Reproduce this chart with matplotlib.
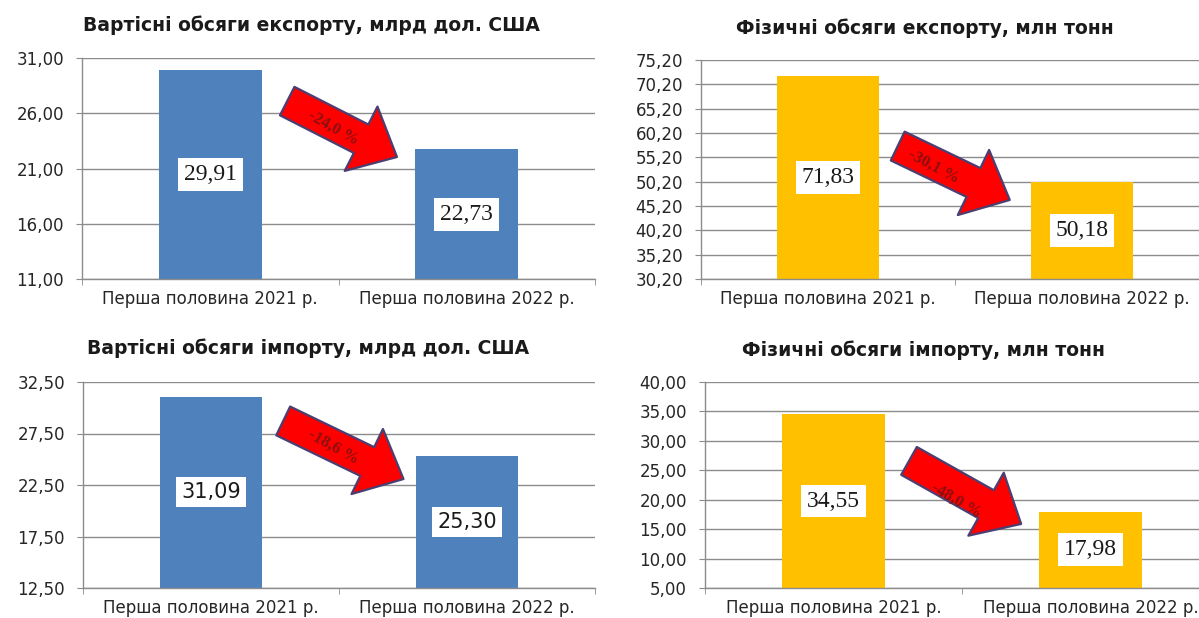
import numpy as np
import matplotlib
matplotlib.use("Agg")
import matplotlib.pyplot as plt
from matplotlib.ticker import FixedLocator, FuncFormatter

categories = ["Перша половина 2021 р.", "Перша половина 2022 р."]

export_value = [29.91, 22.73]     # млрд дол. США
export_volume = [71.83, 50.18]    # млн тонн
import_value = [31.09, 25.30]     # млрд дол. США
import_volume = [34.55, 17.98]    # млн тонн

titles = ["Вартісні обсяги експорту, млрд дол. США",
          "Фізичні обсяги експорту, млн тонн",
          "Вартісні обсяги імпорту, млрд дол. США",
          "Фізичні обсяги імпорту, млн тонн"]
changes = ["-24,0 %", "-30,1 %", "-18,6 %", "-48,0 %"]
y_ranges = [(11.0, 31.0), (30.2, 75.2), (12.5, 32.5), (5.0, 40.0)]

BLUE = "#4f81bd"
YELLOW = "#ffc000"
GRID = "#8c8c8c"

W, H = 1199, 618
fig = plt.figure(figsize=(W / 100, H / 100), dpi=100)


def px_box(left, top, right, bottom):
    return [left / W, 1 - bottom / H, (right - left) / W, (bottom - top) / H]


panels = [
    dict(vals=export_value, color=BLUE, box=px_box(82, 58, 595, 279), xmax=1.5,
         title_xy=(311, 25), label_font="Liberation Serif",
         arrow=((0.400, 0.805), (0.614, 0.552)), txt=(0.489, 0.683), rot=-29),
    dict(vals=export_volume, color=YELLOW, box=px_box(701, 60, 1199, 279), xmax=1.461,
         title_xy=(925, 28), label_font="Liberation Serif",
         arrow=((0.395, 0.607), (0.620, 0.361)), txt=(0.466, 0.511), rot=-28),
    dict(vals=import_value, color=BLUE, box=px_box(83, 382, 595, 588), xmax=1.5,
         title_xy=(308, 348), label_font="DejaVu Sans",
         arrow=((0.391, 0.811), (0.626, 0.529)), txt=(0.489, 0.684), rot=-29),
    dict(vals=import_volume, color=YELLOW, box=px_box(705, 382, 1199, 588), xmax=1.422,
         title_xy=(924, 350), label_font="Liberation Serif",
         arrow=((0.413, 0.617), (0.640, 0.311)), txt=(0.508, 0.427), rot=-30),
]

comma_fmt = FuncFormatter(lambda v, pos: f"{v:.2f}".replace(".", ","))

for i, p in enumerate(panels):
    ax = fig.add_axes(p["box"])
    lo, hi = y_ranges[i]
    x = np.arange(len(categories))
    vals = np.array(p["vals"])
    ax.bar(x, vals - lo, bottom=lo, width=0.4, color=p["color"], zorder=2)

    ax.set_xlim(-0.5, p["xmax"])
    ax.set_ylim(lo, hi)
    ax.yaxis.set_major_locator(FixedLocator(np.arange(lo, hi + 0.01, 5.0)))
    ax.yaxis.set_major_formatter(comma_fmt)
    ax.grid(axis="y", color=GRID, linewidth=1.0, zorder=0)
    ax.set_axisbelow(True)

    ax.set_xticks(x)
    ax.set_xticklabels(categories)
    ax.xaxis.set_minor_locator(FixedLocator([-0.5, 0.5, 1.5]))
    ax.tick_params(axis="x", which="major", length=0, pad=8,
                   labelsize=12, labelcolor="#262626")
    ax.tick_params(axis="x", which="minor", length=4, color=GRID, direction="out")
    ax.tick_params(axis="y", length=4, color=GRID, pad=9,
                   labelsize=12, labelcolor="#262626")
    for lab in ax.get_xticklabels() + ax.get_yticklabels():
        lab.set_fontfamily("DejaVu Sans")

    for s in ("top", "right"):
        ax.spines[s].set_visible(False)
    for s in ("left", "bottom"):
        ax.spines[s].set_color(GRID)
        ax.spines[s].set_linewidth(1.0)

    # value labels in the middle of each bar
    for xi, v in zip(x, vals):
        txt = f"{v:.2f}".replace(".", ",")
        ax.text(xi, (lo + v) / 2, txt, ha="center", va="center",
                fontsize=17 if p["label_font"] != "DejaVu Sans" else 15,
                family=p["label_font"], color="#1a1a1a", zorder=4,
                bbox=dict(boxstyle="square,pad=0.25", fc="white", ec="none"))

    # red change arrow
    tail, tip = p["arrow"]
    ax.annotate("", xy=tip, xytext=tail, xycoords="axes fraction",
                textcoords="axes fraction", zorder=5,
                arrowprops=dict(arrowstyle="simple,head_length=29,head_width=52,tail_width=23",
                                mutation_scale=1, fc="#ff0000", ec="#4b3f72",
                                lw=1.6, shrinkA=0, shrinkB=0))
    ax.text(p["txt"][0], p["txt"][1], changes[i], transform=ax.transAxes,
            ha="center", va="center", rotation=p["rot"], rotation_mode="anchor",
            fontsize=12, fontweight="bold", family="Liberation Serif",
            color="#8b1010", zorder=6)

    tx, ty = p["title_xy"]
    fig.text(tx / W, 1 - ty / H, titles[i], ha="center", va="center",
             fontsize=13.5, fontweight="bold", family="DejaVu Sans", color="#1a1a1a")

fig.savefig("out.png", dpi=100, facecolor="white")
